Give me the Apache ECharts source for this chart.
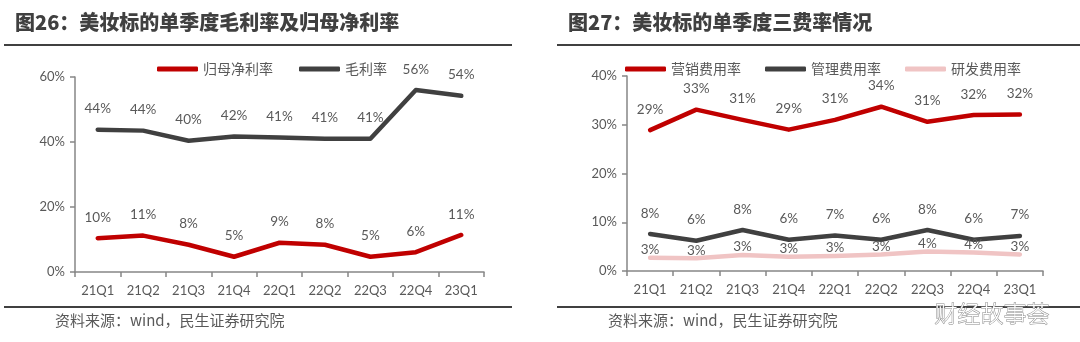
<!DOCTYPE html>
<html>
<head>
<meta charset="utf-8">
<script src="https://cdn.jsdelivr.net/npm/echarts@6/dist/echarts.min.js"></script>
<style>
  html, body { margin: 0; padding: 0; background: #fff; }
  #chart { width: 1080px; height: 342px; }
</style>
</head>
<body>
<div id="chart"></div>
<script>
// Quarters shared by both panels
const quarters = ['21Q1', '21Q2', '21Q3', '21Q4', '22Q1', '22Q2', '22Q3', '22Q4', '23Q1'];

// Panel 1: quarterly net margin attributable to parent and gross margin (%)
const netMargin = [10.4, 11.2, 8.4, 4.7, 9.0, 8.4, 4.7, 6.1, 11.4];
const grossMargin = [43.8, 43.5, 40.4, 41.7, 41.4, 41.0, 41.0, 56.0, 54.2];
const leftTicks = { min: 0, max: 60, interval: 20 };

// Panel 2: quarterly selling / admin / R&D expense ratios (%)
const sellingRatio = [28.9, 33.1, 31.0, 29.0, 31.0, 33.7, 30.6, 32.0, 32.1];
const adminRatio = [7.6, 6.2, 8.4, 6.4, 7.3, 6.4, 8.4, 6.4, 7.2];
const rdRatio = [2.7, 2.6, 3.3, 2.9, 3.1, 3.4, 4.0, 3.8, 3.4];
const rightTicks = { min: 0, max: 40, interval: 10 };

const titles = ['图26：美妆标的单季度毛利率及归母净利率', '图27：美妆标的单季度三费率情况'];
const sourceNote = '资料来源：wind，民生证券研究院';
const watermark = '财经故事荟';

const RED = '#C00000';
const DARK = '#404040';
const PINK = '#F0C4C4';
const TXT = '#595959';
const AXIS = '#868686';
const FONT = "Lato, 'Noto Sans CJK SC', sans-serif";

const chart = echarts.init(document.getElementById('chart'), null, { renderer: 'canvas' });

function xAxis(gridIndex) {
  return {
    type: 'category', gridIndex, data: quarters, boundaryGap: true,
    axisLine: { lineStyle: { color: AXIS, width: 1.5 } },
    axisTick: { show: true, alignWithLabel: false, length: 5, lineStyle: { color: AXIS, width: 1.5 } },
    axisLabel: { color: TXT, fontSize: 13, fontFamily: FONT, margin: 12 }
  };
}
function yAxis(gridIndex, t) {
  return {
    type: 'value', gridIndex, min: t.min, max: t.max, interval: t.interval,
    splitLine: { show: false },
    axisLine: { show: true, lineStyle: { color: AXIS, width: 1.5 } },
    axisTick: { show: true, length: 5, lineStyle: { color: AXIS, width: 1.5 } },
    axisLabel: { color: TXT, fontSize: 13, fontFamily: FONT, margin: 10, formatter: '{value}%' }
  };
}
function line(name, data, color, xi, dist) {
  return {
    name, type: 'line', data, xAxisIndex: xi, yAxisIndex: xi,
    // tiny invisible markers so each point can carry its value label
    symbol: 'circle', symbolSize: 0.1, showSymbol: true, smooth: false,
    lineStyle: { color, width: 4.5, cap: 'round', join: 'round' },
    itemStyle: { color },
    labelLayout: { hideOverlap: false },
    label: {
      show: true, position: 'top', distance: dist, color: TXT,
      fontSize: 13.5, fontFamily: FONT,
      formatter: p => Math.round(p.value) + '%'
    }
  };
}

const legendText = { color: TXT, fontSize: 14, fontFamily: FONT };

chart.setOption({
  animation: false,
  textStyle: { fontFamily: FONT },
  grid: [
    { left: 75, right: 596, top: 77, bottom: 70 },
    { left: 627, right: 37, top: 76, bottom: 71 }
  ],
  xAxis: [xAxis(0), xAxis(1)],
  yAxis: [yAxis(0, leftTicks), yAxis(1, rightTicks)],
  legend: [
    { data: ['归母净利率', '毛利率'], left: 152, top: 57, itemWidth: 41, itemHeight: 5, itemGap: 26,
      icon: 'roundRect', textStyle: legendText },
    { data: ['营销费用率', '管理费用率', '研发费用率'], left: 620, top: 57, itemWidth: 41, itemHeight: 5, itemGap: 24,
      icon: 'roundRect', textStyle: legendText }
  ],
  series: [
    line('归母净利率', netMargin, RED, 0, 14),
    line('毛利率', grossMargin, DARK, 0, 14),
    line('营销费用率', sellingRatio, RED, 1, 14),
    line('管理费用率', adminRatio, DARK, 1, 14),
    line('研发费用率', rdRatio, PINK, 1, 1)
  ],
  graphic: [
    { type: 'text', left: 15, top: 12, style: { text: titles[0], fill: DARK, font: "900 20px 'Noto Sans CJK SC'" } },
    { type: 'text', left: 568, top: 12, style: { text: titles[1], fill: DARK, font: "900 20px 'Noto Sans CJK SC'" } },
    { type: 'rect', shape: { x: 4, y: 44, width: 508, height: 2 }, style: { fill: DARK } },
    { type: 'rect', shape: { x: 557, y: 44, width: 523, height: 2 }, style: { fill: DARK } },
    { type: 'rect', shape: { x: 4, y: 306, width: 508, height: 2 }, style: { fill: DARK } },
    { type: 'rect', shape: { x: 557, y: 306, width: 523, height: 2 }, style: { fill: DARK } },
    { type: 'text', left: 55, top: 313, style: { text: sourceNote, fill: TXT, font: "15px 'Noto Sans CJK SC'" } },
    { type: 'text', left: 608, top: 313, style: { text: sourceNote, fill: TXT, font: "15px 'Noto Sans CJK SC'" } },
    { type: 'text', left: 934, top: 301, z: 100,
      style: { text: watermark, fill: '#ffffff', stroke: '#8a8a8a', lineWidth: 1, font: "300 23px 'Noto Sans CJK SC'" } }
  ]
});
</script>
</body>
</html>
